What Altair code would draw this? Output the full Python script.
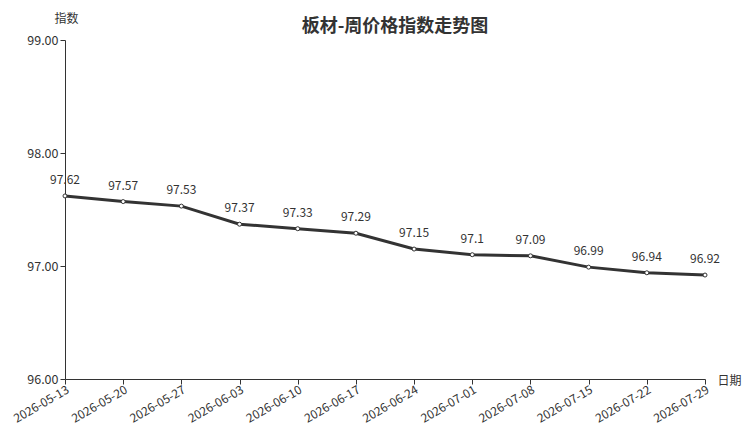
import altair as alt
import pandas as pd

dates = ["2026-05-13", "2026-05-20", "2026-05-27", "2026-06-03", "2026-06-10", "2026-06-17",
         "2026-06-24", "2026-07-01", "2026-07-08", "2026-07-15", "2026-07-22", "2026-07-29"]
values = [97.62, 97.57, 97.53, 97.37, 97.33, 97.29, 97.15, 97.1, 97.09, 96.99, 96.94, 96.92]
labels = ["97.62", "97.57", "97.53", "97.37", "97.33", "97.29", "97.15", "97.1", "97.09", "96.99", "96.94", "96.92"]

df = pd.DataFrame({"date": dates, "value": values, "label": labels})

FONT = "Noto Sans CJK SC"

x = alt.X("date:O", sort=dates,
          scale=alt.Scale(type="point", padding=0),
          axis=alt.Axis(title="日期", labelAngle=-30, labelFontSize=12, labelColor="#333",
                        labelFont=FONT, titleFont=FONT,
                        domainColor="#333", tickColor="#333", tickSize=5,
                        titleX=664, titleY=1, titleAlign="center", titleBaseline="middle",
                        titleFontWeight="normal", titleFontSize=12, titleColor="#333",
                        labelPadding=0))
y = alt.Y("value:Q",
          scale=alt.Scale(domain=[96, 99], nice=False, zero=False),
          axis=alt.Axis(title="指数", format=".2f", values=[96, 97, 98, 99], grid=False,
                        labelFont=FONT, titleFont=FONT,
                        labelFontSize=12.5, labelColor="#333", domainColor="#333",
                        tickColor="#333", tickSize=5, labelPadding=2,
                        titleAngle=0, titleX=1, titleY=-22, titleAlign="center",
                        titleBaseline="middle", titleFontWeight="normal",
                        titleFontSize=12, titleColor="#333"))

base = alt.Chart(df).encode(x=x, y=y)

line = base.mark_line(color="#333333", strokeWidth=3)
pts = base.mark_point(filled=True, fill="white", stroke="#333333", strokeWidth=1, size=16, opacity=1)
txt = base.mark_text(baseline="bottom", dy=-9, fontSize=12, color="#333", font=FONT).encode(text="label:N")

chart = (line + pts + txt).properties(
    width=640, height=339,
    title=alt.TitleParams("板材-周价格指数走势图", fontSize=18, font=FONT, fontWeight="bold",
                          color="#333", dx=10, offset=-24, anchor="middle", frame="group"),
    autosize=alt.AutoSizeParams(type="none"),
    padding={"left": 57, "top": 32, "right": 37, "bottom": 49},
).configure(font=FONT, view=alt.ViewConfig(stroke=None))

chart.save("out.html", embed_options={"renderer": "svg", "actions": False})
